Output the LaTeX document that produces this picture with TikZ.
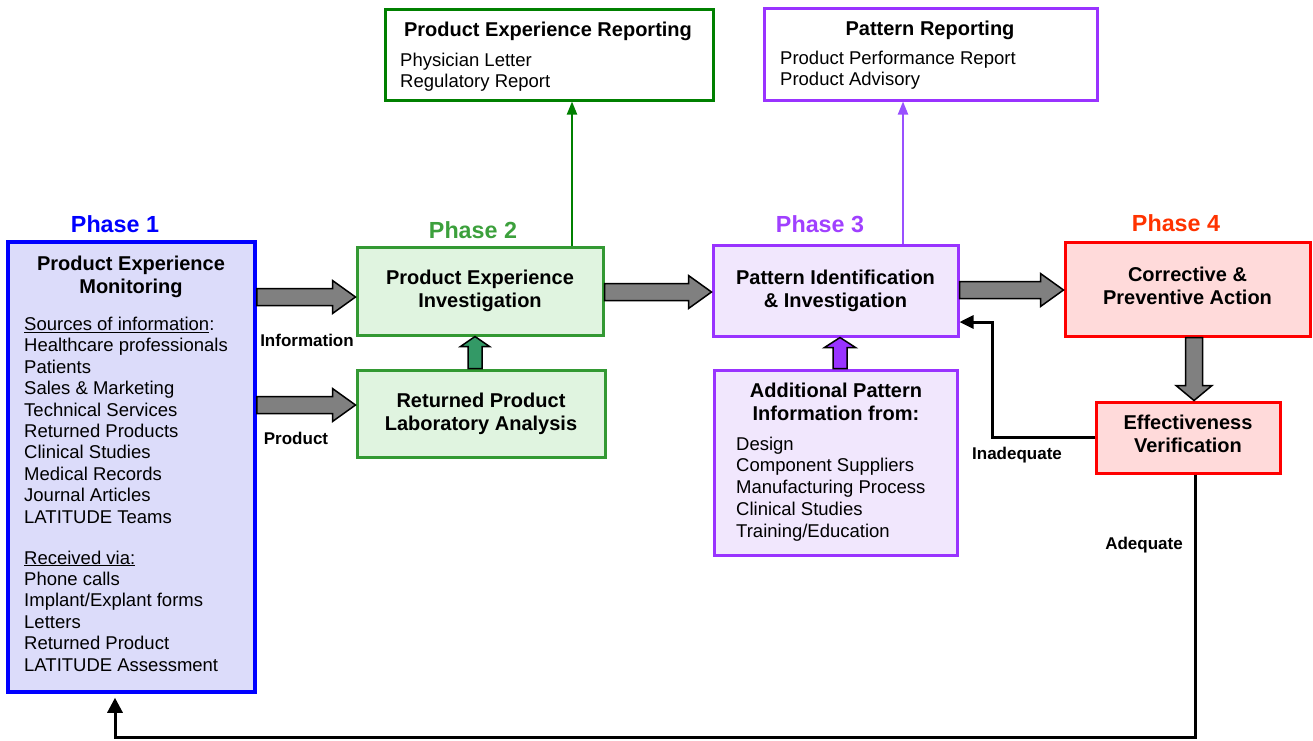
\documentclass[tikz,border=0pt]{standalone}
\usepackage{fontspec}
\setmainfont{Liberation Sans}
\usetikzlibrary{calc,arrows.meta}

\definecolor{pblue}{RGB}{0,0,255}
\definecolor{pbluefill}{RGB}{220,220,250}
\definecolor{pgreen}{RGB}{51,153,51}
\definecolor{pgreenfill}{RGB}{224,244,224}
\definecolor{pgreenarrow}{RGB}{51,153,102}
\definecolor{pgreentext}{RGB}{60,160,60}
\definecolor{ppurple}{RGB}{153,51,255}
\definecolor{ppurplefill}{RGB}{241,231,253}
\definecolor{ppurpletext}{RGB}{160,64,255}
\definecolor{ppurplearrow}{RGB}{153,80,255}
\definecolor{pred}{RGB}{255,0,0}
\definecolor{predfill}{RGB}{255,218,218}
\definecolor{predtext}{RGB}{255,51,0}
\definecolor{repgreen}{RGB}{0,128,0}
\definecolor{fatgray}{RGB}{128,128,128}

\newcommand\myBody{\fontsize{18.5}{21.4}\selectfont}
\newcommand\myBodyB{\fontsize{18.5}{21.75}\selectfont}
\newcommand\myTitle{\fontsize{20}{23}\selectfont\bfseries}
\newcommand\myPhase{\fontsize{23.3}{28}\selectfont\bfseries}
\newcommand\myLabel{\fontsize{17}{20}\selectfont\bfseries}

% #1 style, #2 from, #3 to, #4 shaft half width, #5 head half width, #6 head length
\newcommand\fatarrow[6]{%
  \coordinate (fatS) at #2;
  \coordinate (fatE) at #3;
  \coordinate (fatB) at ($(fatE)!#6!(fatS)$);
  \draw[#1] ($(fatS)!#4!90:(fatE)$) -- ($(fatB)!#4!-90:(fatS)$) -- ($(fatB)!#5!-90:(fatS)$)
    -- (fatE) -- ($(fatB)!#5!90:(fatS)$) -- ($(fatB)!#4!90:(fatS)$) -- ($(fatS)!#4!-90:(fatE)$) -- cycle;}

\begin{document}
\begin{tikzpicture}[x=1pt,y=-1pt,
  box/.style={rectangle, line width=3pt, inner sep=0pt, align=center, font=\myTitle},
  bluebox/.style={box, draw=pblue, fill=pbluefill, line width=3.5pt},
  greenbox/.style={box, draw=pgreen, fill=pgreenfill},
  purplebox/.style={box, draw=ppurple, fill=ppurplefill},
  redbox/.style={box, draw=pred, fill=predfill},
  fat/.style={draw=black, fill=fatgray, line width=1.5pt, line join=miter},
  phase/.style={font=\myPhase, inner sep=0pt},
  lbl/.style={font=\myLabel, inner sep=0pt, anchor=base},
  list/.style={font=\myBody, inner sep=0pt, align=left, anchor=base west},
  ttl/.style={font=\myTitle, inner sep=0pt, align=center, anchor=base},
  blk/.style={line width=3pt, line join=miter}
]
\useasboundingbox (0,0) rectangle (1313,740);

% ---------- phase labels ----------
\node[phase, text=pblue] (ph1) at (115,224) {Phase 1};
\node[phase, text=pgreentext] (ph2) at (473,230) {Phase 2};
\node[phase, text=ppurpletext] (ph3) at (820,224) {Phase 3};
\node[phase, text=predtext] (ph4) at (1176,223) {Phase 4};

% ---------- boxes ----------
\node[bluebox, minimum width=247pt, minimum height=450pt] (pem) at (131.5,467) {};
\node[greenbox, minimum width=246pt, minimum height=88pt] (pei) at (480,291) {Product Experience\\Investigation};
\node[greenbox, minimum width=248pt, minimum height=87pt] (rpla) at (481,413.5) {Returned Product\\Laboratory Analysis};
\node[purplebox, minimum width=245pt, minimum height=91pt] (pii) at (835.5,290.5) {Pattern Identification\\\& Investigation};
\node[purplebox, minimum width=243pt, minimum height=185pt] (apf) at (835.5,462.5) {};
\node[redbox, minimum width=245pt, minimum height=94pt, text depth=6pt] (cpa) at (1187.5,289) {Corrective \&\\Preventive Action};
\node[redbox, minimum width=184pt, minimum height=71pt, text depth=8pt] (ev) at (1188,437.5) {Effectiveness\\Verification};
\node[box, draw=repgreen, fill=white, minimum width=328pt, minimum height=91pt] (per) at (549,54.5) {};
\node[box, draw=ppurple, fill=white, minimum width=333pt, minimum height=92pt] (pr) at (930.5,54) {};

% ---------- texts in boxes (base = baseline of last line) ----------
\node[ttl] (pemT) at (131,293) {Product Experience\\Monitoring};
\node[list] (pemS) at (24,523) {\underline{Sources of information}:\\Healthcare professionals\\Patients\\Sales \& Marketing\\Technical Services\\Returned Products\\Clinical Studies\\Medical Records\\Journal Articles\\LATITUDE Teams};
\node[list] (pemR) at (24,671) {\underline{Received via:}\\Phone calls\\Implant/Explant forms\\Letters\\Returned Product\\LATITUDE Assessment};

\node[ttl] (apfT) at (836,420) {Additional Pattern\\Information from:};
\node[list, font=\myBodyB] (apfL) at (736,537) {Design\\Component Suppliers\\Manufacturing Process\\Clinical Studies\\Training/Education};

\node[ttl] (perT) at (548,36) {Product Experience Reporting};
\node[list, font=\fontsize{18.5}{21}\selectfont] (perL) at (400,87) {Physician Letter\\Regulatory Report};
\node[ttl] (prT) at (930,35) {Pattern Reporting};
\node[list, font=\fontsize{18.5}{21}\selectfont] (prL) at (780,85) {Product Performance Report\\Product Advisory};

% ---------- small labels ----------
\node[lbl] (lInfo) at (307,346) {Information};
\node[lbl] (lProd) at (296,444) {Product};
\node[lbl] (lInad) at (1017,459) {Inadequate};
\node[lbl] (lAdeq) at (1144,549) {Adequate};

% ---------- fat arrows ----------
\fatarrow{fat}{(pem.east |- 0,297)}{(pei.west |- 0,297)}{8.5pt}{16.5pt}{23pt}
\fatarrow{fat}{(pem.east |- 0,405)}{(rpla.west |- 0,405)}{8.5pt}{16.5pt}{23pt}
\fatarrow{fat}{(pei.east |- 0,292)}{(pii.west |- 0,292)}{8.5pt}{16.5pt}{23pt}
\fatarrow{fat}{(pii.east |- 0,290)}{(cpa.west |- 0,290)}{8.5pt}{16.5pt}{23pt}
\fatarrow{fat}{(1194,0 |- cpa.south)}{(1194,0 |- ev.north)}{8.5pt}{18pt}{15pt}
\fatarrow{fat, fill=pgreenarrow}{(475,0 |- rpla.north)}{(475,0 |- pei.south)}{7pt}{14.5pt}{10pt}
\fatarrow{fat, fill=ppurple}{(840,0 |- apf.north)}{(840,0 |- pii.south)}{7pt}{15.5pt}{10pt}

% ---------- thin arrows ----------
\draw[repgreen, line width=2pt, -{Triangle[length=13pt,width=10pt]}] (572,0 |- pei.north) -- (572,0 |- per.south);
\draw[ppurplearrow, line width=2pt, -{Triangle[length=13pt,width=10pt]}] (903,0 |- pii.north) -- (903,0 |- pr.south);

\draw[blk, -{Triangle[length=14pt,width=13pt]}] (ev.west) -| (992,322) -- (pii.east |- 0,322);
\draw[blk, -{Triangle[length=15pt,width=15pt]}, shorten >=4pt] (1195,0 |- ev.south) -- (1195,737) -| (115,0 |- pem.south);
\end{tikzpicture}
\end{document}
